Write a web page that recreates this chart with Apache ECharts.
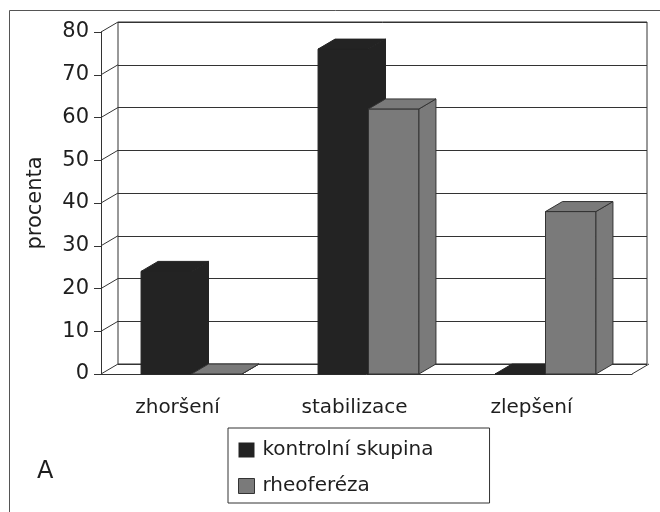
<!DOCTYPE html>
<html>
<head>
<meta charset="utf-8">
<script src="https://cdn.jsdelivr.net/npm/echarts@6/dist/echarts.min.js"></script>
<style>
  html, body { margin: 0; padding: 0; background: #fff; }
  #main { width: 660px; height: 512px; }
</style>
</head>
<body>
<div id="main"></div>
<script>
var categories = ['zhoršení', 'stabilizace', 'zlepšení'];
var kontrolni = [24, 76, 0];
var rheofereza = [0, 62, 38];
var yTicks = [0, 10, 20, 30, 40, 50, 60, 70, 80];
var seriesNames = ['kontrolní skupina', 'rheoferéza'];

var DX = 17, DY = -10;           // depth offset of the back wall
var FONT = 'DejaVu Sans';
var EDGE = '#333333';
var TXT = '#1e1e1e';
var colors = ['#232323', '#7a7a7a'];

var myChart = echarts.init(document.getElementById('main'));

function barRenderer(idx) {
  return function (params, api) {
    var cat = api.value(0), val = api.value(1);
    var top = api.coord([cat, val]);
    var base = api.coord([cat, 0]);
    var bw = api.size([1, 0])[0] * 0.285;
    var x0 = top[0] + 2 - (idx === 0 ? bw : 0);
    var x1 = x0 + bw;
    var yT = top[1], yB = base[1];
    var st = {
      fill: colors[idx],
      stroke: idx === 0 ? colors[0] : EDGE,
      lineWidth: 1
    };
    return {
      type: 'group',
      children: [
        { type: 'polygon', shape: { points: [[x0, yT], [x1, yT], [x1, yB], [x0, yB]] }, style: st },
        { type: 'polygon', shape: { points: [[x1, yT], [x1 + DX, yT + DY], [x1 + DX, yB + DY], [x1, yB]] }, style: st },
        { type: 'polygon', shape: { points: [[x0, yT], [x0 + DX, yT + DY], [x1 + DX, yT + DY], [x1, yT]] }, style: st }
      ]
    };
  };
}

function wallRenderer(params, api) {
  var v = api.value(0);
  var p = api.coord([0, v]);
  var cs = params.coordSys;
  var children = [{
    type: 'line',
    shape: { x1: cs.x, y1: p[1], x2: cs.x + DX, y2: p[1] + DY },
    style: { stroke: EDGE, lineWidth: 1 }
  }];
  if (v === 0) {
    children.push({
      type: 'line',
      shape: { x1: cs.x + cs.width, y1: p[1], x2: cs.x + cs.width + DX, y2: p[1] + DY },
      style: { stroke: EDGE, lineWidth: 1 }
    });
  }
  return { type: 'group', children: children };
}

var option = {
  animation: false,
  textStyle: { fontFamily: FONT, color: TXT },
  grid: [
    { left: 101, top: 32, right: 28, bottom: 138 },
    { left: 118, top: 22, right: 13, bottom: 148, show: true, borderColor: EDGE, borderWidth: 1 }
  ],
  legend: {
    orient: 'vertical',
    left: 228,
    top: 428,
    padding: [11, 56, 6, 10],
    borderColor: EDGE,
    borderWidth: 1,
    itemWidth: 16,
    itemHeight: 15,
    itemGap: 14,
    icon: 'rect',
    textStyle: { fontFamily: FONT, fontSize: 20, color: TXT, lineHeight: 22, padding: [0, 0, 0, 3] },
    data: [
      { name: seriesNames[0], itemStyle: { color: colors[0], borderColor: colors[0] } },
      { name: seriesNames[1], itemStyle: { color: colors[1], borderColor: EDGE, borderWidth: 1 } }
    ]
  },
  xAxis: [
    {
      type: 'category', gridIndex: 0, data: categories,
      axisLine: { lineStyle: { color: EDGE } },
      axisTick: { length: 6, lineStyle: { color: EDGE } },
      axisLabel: { fontSize: 20, color: TXT, margin: 24, fontFamily: FONT, padding: [0, 24, 0, 0] }
    },
    { type: 'category', gridIndex: 1, data: categories, show: false }
  ],
  yAxis: [
    {
      type: 'value', gridIndex: 0, min: 0, max: 80, interval: 10,
      name: 'procenta', nameLocation: 'middle', nameGap: 55, nameRotate: 90,
      nameTextStyle: { fontSize: 21, color: TXT, fontFamily: FONT },
      axisLine: { show: true, lineStyle: { color: EDGE } },
      axisTick: { show: true, length: 7, lineStyle: { color: EDGE } },
      axisLabel: { fontSize: 21, color: TXT, margin: 12, fontFamily: FONT },
      splitLine: { show: false }
    },
    {
      type: 'value', gridIndex: 1, min: 0, max: 80, interval: 10,
      axisLine: { show: false }, axisTick: { show: false }, axisLabel: { show: false },
      splitLine: { show: true, lineStyle: { color: EDGE, width: 1 } }
    }
  ],
  graphic: [
    { type: 'rect', shape: { x: 9.5, y: 10.5, width: 700, height: 600 }, style: { fill: 'none', stroke: '#555', lineWidth: 1 }, silent: true },
    { type: 'text', left: 37, top: 460, style: { text: 'A', fontSize: 24, fontFamily: FONT, fill: TXT } }
  ],
  series: [
    {
      name: 'wall', type: 'custom', xAxisIndex: 0, yAxisIndex: 0,
      data: yTicks.map(function (v) { return [v]; }),
      renderItem: wallRenderer, silent: true, clip: false
    },
    {
      name: seriesNames[0], type: 'custom', xAxisIndex: 0, yAxisIndex: 0,
      itemStyle: { color: colors[0] },
      data: kontrolni.map(function (v, i) { return [i, v]; }),
      renderItem: barRenderer(0), clip: false
    },
    {
      name: seriesNames[1], type: 'custom', xAxisIndex: 0, yAxisIndex: 0,
      itemStyle: { color: colors[1] },
      data: rheofereza.map(function (v, i) { return [i, v]; }),
      renderItem: barRenderer(1), clip: false
    }
  ]
};
myChart.setOption(option);
</script>
</body>
</html>
